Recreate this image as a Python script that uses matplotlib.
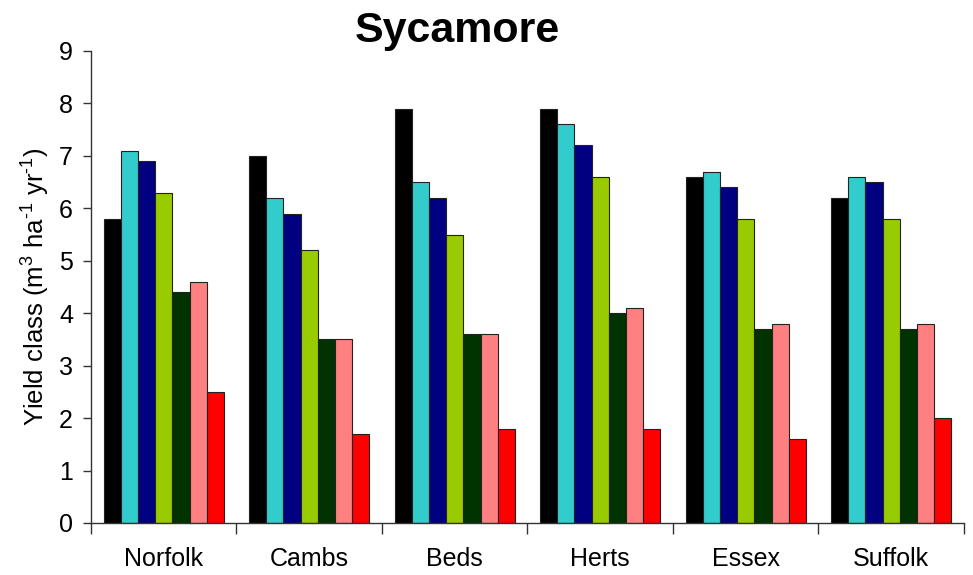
import numpy as np
import matplotlib.pyplot as plt

plt.rcParams['font.family'] = ['Liberation Sans', 'DejaVu Sans']
plt.rcParams['mathtext.fontset'] = 'custom'
plt.rcParams['mathtext.rm'] = 'Liberation Sans'
plt.rcParams['mathtext.default'] = 'regular'

counties = ['Norfolk', 'Cambs', 'Beds', 'Herts', 'Essex', 'Suffolk']
series_1 = [5.8, 7.0, 7.9, 7.9, 6.6, 6.2]
series_2 = [7.1, 6.2, 6.5, 7.6, 6.7, 6.6]
series_3 = [6.9, 5.9, 6.2, 7.2, 6.4, 6.5]
series_4 = [6.3, 5.2, 5.5, 6.6, 5.8, 5.8]
series_5 = [4.4, 3.5, 3.6, 4.0, 3.7, 3.7]
series_6 = [4.6, 3.5, 3.6, 4.1, 3.8, 3.8]
series_7 = [2.5, 1.7, 1.8, 1.8, 1.6, 2.0]

all_series = [series_1, series_2, series_3, series_4, series_5, series_6, series_7]
colors = ['#000000', '#33CCCC', '#000080', '#99CC00', '#003300', '#FF8080', '#FF0000']

fig = plt.figure(figsize=(9.73, 5.75), dpi=100)
ax = fig.add_axes([91 / 973, 1 - 523 / 575, (964 - 91) / 973, (523 - 51) / 575])

centers = np.arange(len(counties)) + 0.5
w = 0.118
for i, (vals, c) in enumerate(zip(all_series, colors)):
    ax.bar(centers + (i - 3) * w, vals, width=w, color=c,
           edgecolor='#222222', linewidth=0.8, zorder=2)

ax.set_xlim(0, len(counties))
ax.set_ylim(0, 9)
ax.set_yticks(range(10))
ax.tick_params(axis='y', direction='out', length=6, width=1, labelsize=18, pad=7, color='#333333')

# group boundary ticks, labels in the middle
ax.set_xticks(np.arange(len(counties) + 1))
ax.set_xticklabels([])
ax.tick_params(axis='x', which='major', direction='out', length=8, width=1, color='#333333')
ax.set_xticks(centers, minor=True)
ax.set_xticklabels(counties, minor=True)
ax.tick_params(axis='x', which='minor', length=0, labelsize=18, pad=17)

for s in ['top', 'right']:
    ax.spines[s].set_visible(False)
for s in ['left', 'bottom']:
    ax.spines[s].set_color('#333333')
    ax.spines[s].set_linewidth(1)

ax.set_ylabel(r'Yield class (m$^{3}$ ha$^{\text{-}1}$ yr$^{\text{-}1}$)', fontsize=18.5)
ax.yaxis.set_label_coords(-39 / 873, 0.5)

fig.text(457 / 973, 1 - 42 / 575, 'Sycamore', fontsize=31, fontweight='bold',
         ha='center', va='baseline')

fig.savefig('out.png', dpi=100)
